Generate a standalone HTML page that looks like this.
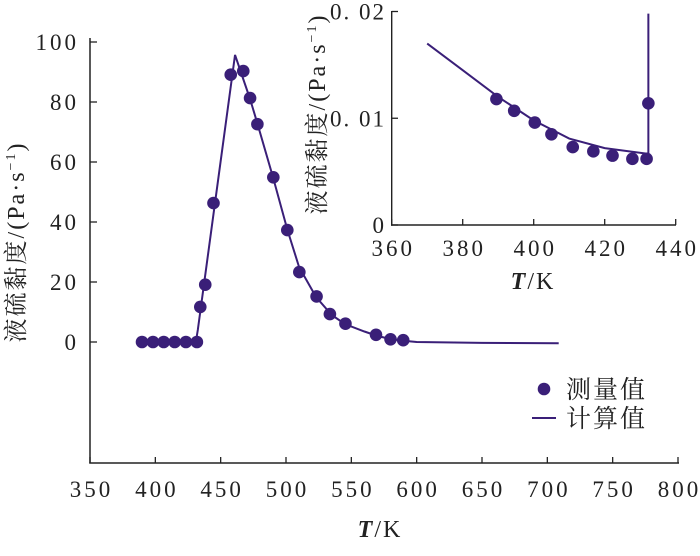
<!DOCTYPE html>
<html><head><meta charset="utf-8"><style>
html,body{margin:0;padding:0;background:#fff;}
svg{display:block;}
text{font-family:"Liberation Serif","Noto Serif CJK SC",serif;fill:#222;}
</style></head><body>
<svg id="chart" width="700" height="556" viewBox="0 0 700 556" xmlns="http://www.w3.org/2000/svg"></svg>
<script>
// Main chart data
const mainMeasT = [389.8,398.2,406.4,414.8,423.4,431.8,434.4,438.2,444.5,457.7,467.3,472.5,478.1,490.3,501,510.2,523.4,533.6,545.5,568.9,580,589.7];
const mainMeasV = [0,0,0,0,0,0,11.7,19.1,46.3,89.1,90.3,81.3,72.6,54.9,37.3,23.3,15.2,9.3,6.1,2.4,0.9,0.6];
const mainCalcT = [390,431,432.5,461,467,472.5,478,490,501,510,523,535,545,560,570,580,590,600,650,708.7];
const mainCalcV = [0,0,4,95.7,88,81,73,55,37.5,25,15,9,6,3.5,2,1,0.4,0,-0.3,-0.4];
const mainXTicks = [350,400,450,500,550,600,650,700,750,800];
const mainYTicks = [0,20,40,60,80,100];
// Inset data
const insetMeasT = [389.5,394.5,400.3,405,411,416.8,422.2,427.8,431.8,432.3];
const insetMeasV = [0.0118,0.0107,0.0096,0.0085,0.0073,0.0069,0.0065,0.0062,0.0062,0.0114];
const insetCalcT = [370,380,390,400,410,420,431.5,432.3,432.3];
const insetCalcV = [0.0170,0.0145,0.0120,0.0098,0.0081,0.0072,0.0067,0.0067,0.0198];
const insetXTicks = [360,380,400,420,440];
const insetYTicks = [0,0.01,0.02];
const insetYLabels = ["0","0. 01","0. 02"];

const C = "#3a1f78";
const svg = document.getElementById('chart');
const NS = "http://www.w3.org/2000/svg";
function mk(tag, attrs, parent){const e=document.createElementNS(NS,tag);for(const k in attrs)e.setAttribute(k,attrs[k]);(parent||svg).appendChild(e);return e;}

const mx = t => 90 + (t-350)*(588/450);
const my = v => 342 - v*3.0;
const ix = t => 391.7 + (t-360)*(284/80);
const iy = v => 225 - v*(213.5/0.02);

// Main axes
const mAxes = mk('g',{});


const yl = mk('line',{x1:90,y1:38,x2:90,y2:463.5,stroke:'#222','stroke-width':1.5},mAxes);


const xl = mk('line',{x1:89.3,y1:463,x2:679,y2:463,stroke:'#222','stroke-width':1.5},mAxes);


mainXTicks.forEach(t=>{
  mk('line',{x1:mx(t),y1:463,x2:mx(t),y2:457,stroke:'#222','stroke-width':1.3},mAxes);
  const tx = mk('text',{x:mx(t)+1.5,y:497,'text-anchor':'middle','font-size':23,'letter-spacing':3},mAxes);
  tx.textContent=t;
  
  
});
mainYTicks.forEach(v=>{
  mk('line',{x1:90,y1:my(v),x2:97,y2:my(v),stroke:'#222','stroke-width':1.3},mAxes);
  const tx = mk('text',{x:79,y:my(v)+8,'text-anchor':'end','font-size':23,'letter-spacing':3},mAxes);
  tx.textContent=v;
  
  
});
const mxt = mk('text',{x:380,y:537,'text-anchor':'middle','font-size':24,'letter-spacing':2});
mxt.innerHTML='<tspan font-style="italic" font-weight="bold">T</tspan>/K';


const myt = mk('text',{x:0,y:0,'text-anchor':'middle','font-size':24,'letter-spacing':2,transform:'translate(24,242) rotate(-90)'});
myt.innerHTML='液硫黏度/(Pa·s<tspan font-size="14" dy="-9">−1</tspan><tspan dy="9">)</tspan>';



const mLine = mk('polyline',{points:mainCalcT.map((t,i)=>mx(t)+','+my(mainCalcV[i])).join(' '),fill:'none',stroke:C,'stroke-width':2});


mainMeasT.forEach((t,i)=>{
  const c = mk('circle',{cx:mx(t),cy:my(mainMeasV[i]),r:6.3,fill:C});
  
  
});

// Legend
const lg = mk('g',{});


const ld = mk('circle',{cx:544,cy:389,r:6.3,fill:C},lg);


const lt1 = mk('text',{x:566,y:398,'font-size':25,'letter-spacing':2},lg);
lt1.textContent='测量值';


const ll = mk('line',{x1:532,y1:418,x2:556,y2:418,stroke:C,'stroke-width':2},lg);


const lt2 = mk('text',{x:566,y:427,'font-size':25,'letter-spacing':2},lg);
lt2.textContent='计算值';



// Inset
const ia = mk('g',{});


const iyl = mk('line',{x1:391.7,y1:11,x2:391.7,y2:225.7,stroke:'#222','stroke-width':1.4},ia);


const ixl = mk('line',{x1:391,y1:225,x2:676,y2:225,stroke:'#222','stroke-width':1.4},ia);


insetXTicks.forEach(t=>{
  mk('line',{x1:ix(t),y1:225,x2:ix(t),y2:219,stroke:'#222','stroke-width':1.3},ia);
  const tx = mk('text',{x:ix(t)+1.5,y:256,'text-anchor':'middle','font-size':23,'letter-spacing':3},ia);
  tx.textContent=t;
  
  
});
insetYTicks.forEach((v,i)=>{
  mk('line',{x1:391.7,y1:iy(v),x2:398,y2:iy(v),stroke:'#222','stroke-width':1.3},ia);
  const tx = mk('text',{x:386,y:iy(v)+8,'text-anchor':'end','font-size':23,'letter-spacing':2},ia);
  tx.textContent=insetYLabels[i];
  
  
});
const ixt = mk('text',{x:533,y:289,'text-anchor':'middle','font-size':24,'letter-spacing':2});
ixt.innerHTML='<tspan font-style="italic" font-weight="bold">T</tspan>/K';


const iyt = mk('text',{x:0,y:0,'text-anchor':'middle','font-size':24,'letter-spacing':2,transform:'translate(325,114) rotate(-90)'});
iyt.innerHTML='液硫黏度/(Pa·s<tspan font-size="14" dy="-9">−1</tspan><tspan dy="9">)</tspan>';


const iLine = mk('polyline',{points:insetCalcT.map((t,i)=>ix(t)+','+iy(insetCalcV[i])).join(' '),fill:'none',stroke:C,'stroke-width':2});


insetMeasT.forEach((t,i)=>{
  const c = mk('circle',{cx:ix(t),cy:iy(insetMeasV[i]),r:6.3,fill:C});
  
  
});
</script>
</body></html>
